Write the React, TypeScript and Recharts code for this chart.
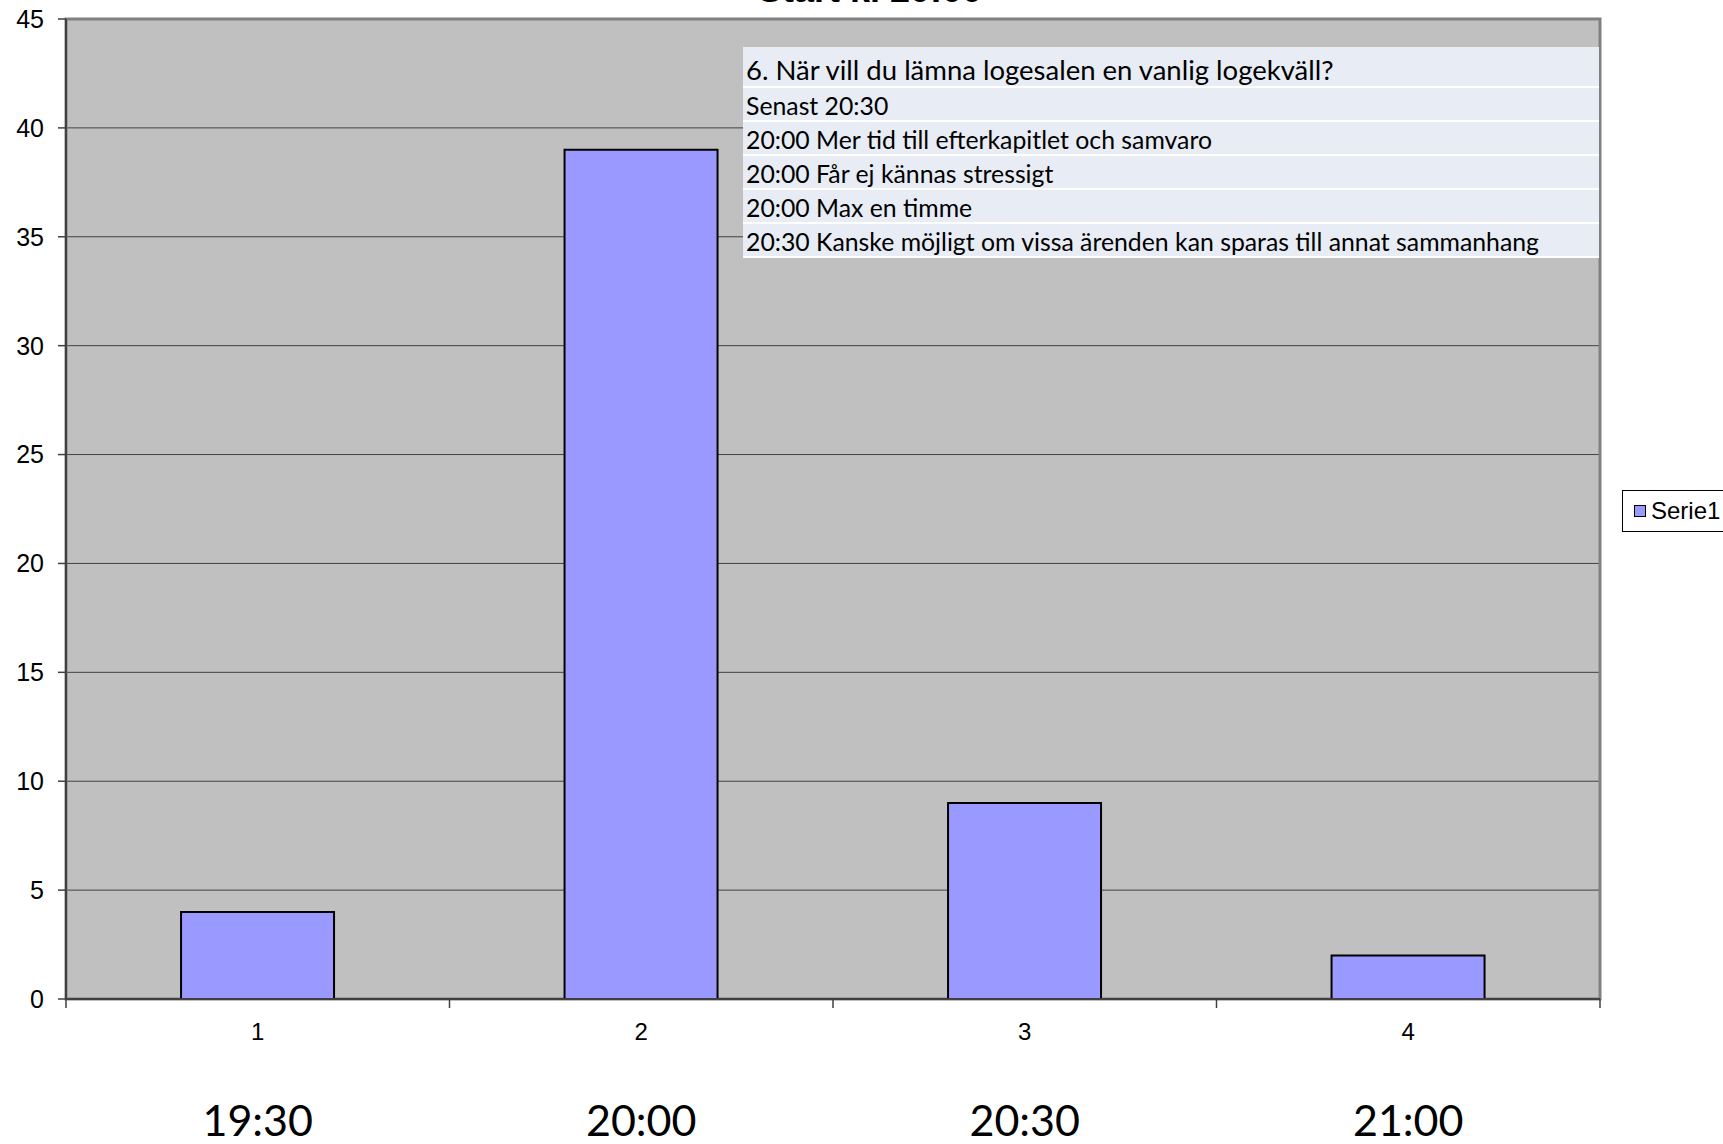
import React from 'react';
import { BarChart, Bar, XAxis, YAxis, CartesianGrid, ReferenceArea, Legend } from 'recharts';

const chartTitle = 'Start kl 20:00';
const categories = ['1', '2', '3', '4'];
const timeLabels = ['19:30', '20:00', '20:30', '21:00'];
const serie1 = [4, 39, 9, 2];
const yTicks = [0, 5, 10, 15, 20, 25, 30, 35, 40, 45];
const seriesName = 'Serie1';
const noteHeader = '6. När vill du lämna logesalen en vanlig logekväll?';
const noteLines = [
  'Senast 20:30',
  '20:00 Mer tid till efterkapitlet och samvaro',
  '20:00 Får ej kännas stressigt',
  '20:00 Max en timme',
  '20:30 Kanske möjligt om vissa ärenden kan sparas till annat sammanhang',
];

const data = categories.map((c, i) => ({ cat: c, time: timeLabels[i], [seriesName]: serie1[i] }));

const W = 1723;
const H = 1144;
const M = { top: 19, right: 123, left: 0, bottom: 0 };
const Y_W = 66;
const X_H = 145;
const PLOT_W = W - M.left - M.right - Y_W;
const HALF_BAND = PLOT_W / categories.length / 2;

const XTick = (props: any) => {
  const { x, y, payload, index } = props;
  const last = index === categories.length - 1;
  return (
    <g>
      <line x1={x - HALF_BAND} x2={x - HALF_BAND} y1={y} y2={y + 9} stroke="#404040" strokeWidth={1.5} />
      {last && <line x1={x + HALF_BAND} x2={x + HALF_BAND} y1={y} y2={y + 9} stroke="#404040" strokeWidth={1.5} />}
      <text x={x} y={y + 32} textAnchor="middle" dominantBaseline="central" fontFamily="Liberation Sans, Arial" fontSize={24} fill="#000">
        {payload.value}
      </text>
      <text x={x} y={y + 120} textAnchor="middle" dominantBaseline="central" fontFamily="Lato, sans-serif" fontSize={43} fill="#000">
        {timeLabels[index]}
      </text>
    </g>
  );
};

const LegendBox = () => (
  <div style={{ border: '1px solid #000', background: '#fff', width: 110, height: 42, boxSizing: 'border-box', display: 'flex', alignItems: 'center', paddingLeft: 11 }}>
    <span style={{ display: 'inline-block', width: 12, height: 12, background: '#9999ff', border: '1.5px solid #000', boxSizing: 'border-box', marginRight: 5 }} />
    <span style={{ fontFamily: 'Liberation Sans, Arial', fontSize: 24, color: '#000', lineHeight: 1 }}>{seriesName}</span>
  </div>
);

export default function App() {
  return (
    <div style={{ position: 'absolute', left: 0, top: 0, width: W, height: H, overflow: 'hidden', background: '#fff' }}>
      <BarChart width={W} height={H} data={data} margin={M} barCategoryGap="30%">
        <CartesianGrid vertical={false} stroke="#404040" strokeWidth={1} fill="#c0c0c0" fillOpacity={1} />
        <XAxis dataKey="cat" height={X_H} tickSize={0} tickMargin={0} interval={0} axisLine={{ stroke: '#404040', strokeWidth: 2 }} tick={<XTick />} />
        <YAxis
          width={Y_W}
          domain={[0, 45]}
          ticks={yTicks}
          interval={0}
          tickSize={8}
          tickMargin={14}
          axisLine={{ stroke: '#404040', strokeWidth: 2 }}
          tickLine={{ stroke: '#404040', strokeWidth: 1.5 }}
          tick={{ fontFamily: 'Liberation Sans, Arial', fontSize: 25, fill: '#000' }}
        />
        <ReferenceArea y1={0} y2={45} fill="none" stroke="#808080" strokeWidth={3} ifOverflow="visible" />
        <Bar dataKey={seriesName} fill="#9999ff" stroke="#000" strokeWidth={2} isAnimationActive={false} />
        <Legend
          layout="horizontal"
          verticalAlign="middle"
          align="center"
          content={<LegendBox />}
          wrapperStyle={{ left: 1622, top: 490, width: 110, height: 42 }}
        />
      </BarChart>
      <svg style={{ position: 'absolute', left: 0, top: 0 }} width={W} height={20}>
        <text x={870} y={2} textAnchor="middle" fontFamily="Liberation Sans, Arial" fontWeight="bold" fontSize={36} fill="#000">
          {chartTitle}
        </text>
      </svg>
      <div style={{ position: 'absolute', left: 743, top: 47, width: 856, background: '#ffffff', fontFamily: 'Lato, sans-serif', color: '#000' }}>
        <div style={{ background: '#e8ecf4', height: 39, marginBottom: 2, display: 'flex', alignItems: 'center', paddingLeft: 3, paddingTop: 6, boxSizing: 'border-box', fontSize: 27.5, whiteSpace: 'nowrap' }}>
          {noteHeader}
        </div>
        {noteLines.map((t, i) => (
          <div key={i} style={{ background: '#e8ecf4', height: 32, marginBottom: 2, display: 'flex', alignItems: 'center', paddingLeft: 3, paddingTop: 3, boxSizing: 'border-box', fontSize: 24.8, whiteSpace: 'nowrap' }}>
            {t}
          </div>
        ))}
      </div>
    </div>
  );
}
